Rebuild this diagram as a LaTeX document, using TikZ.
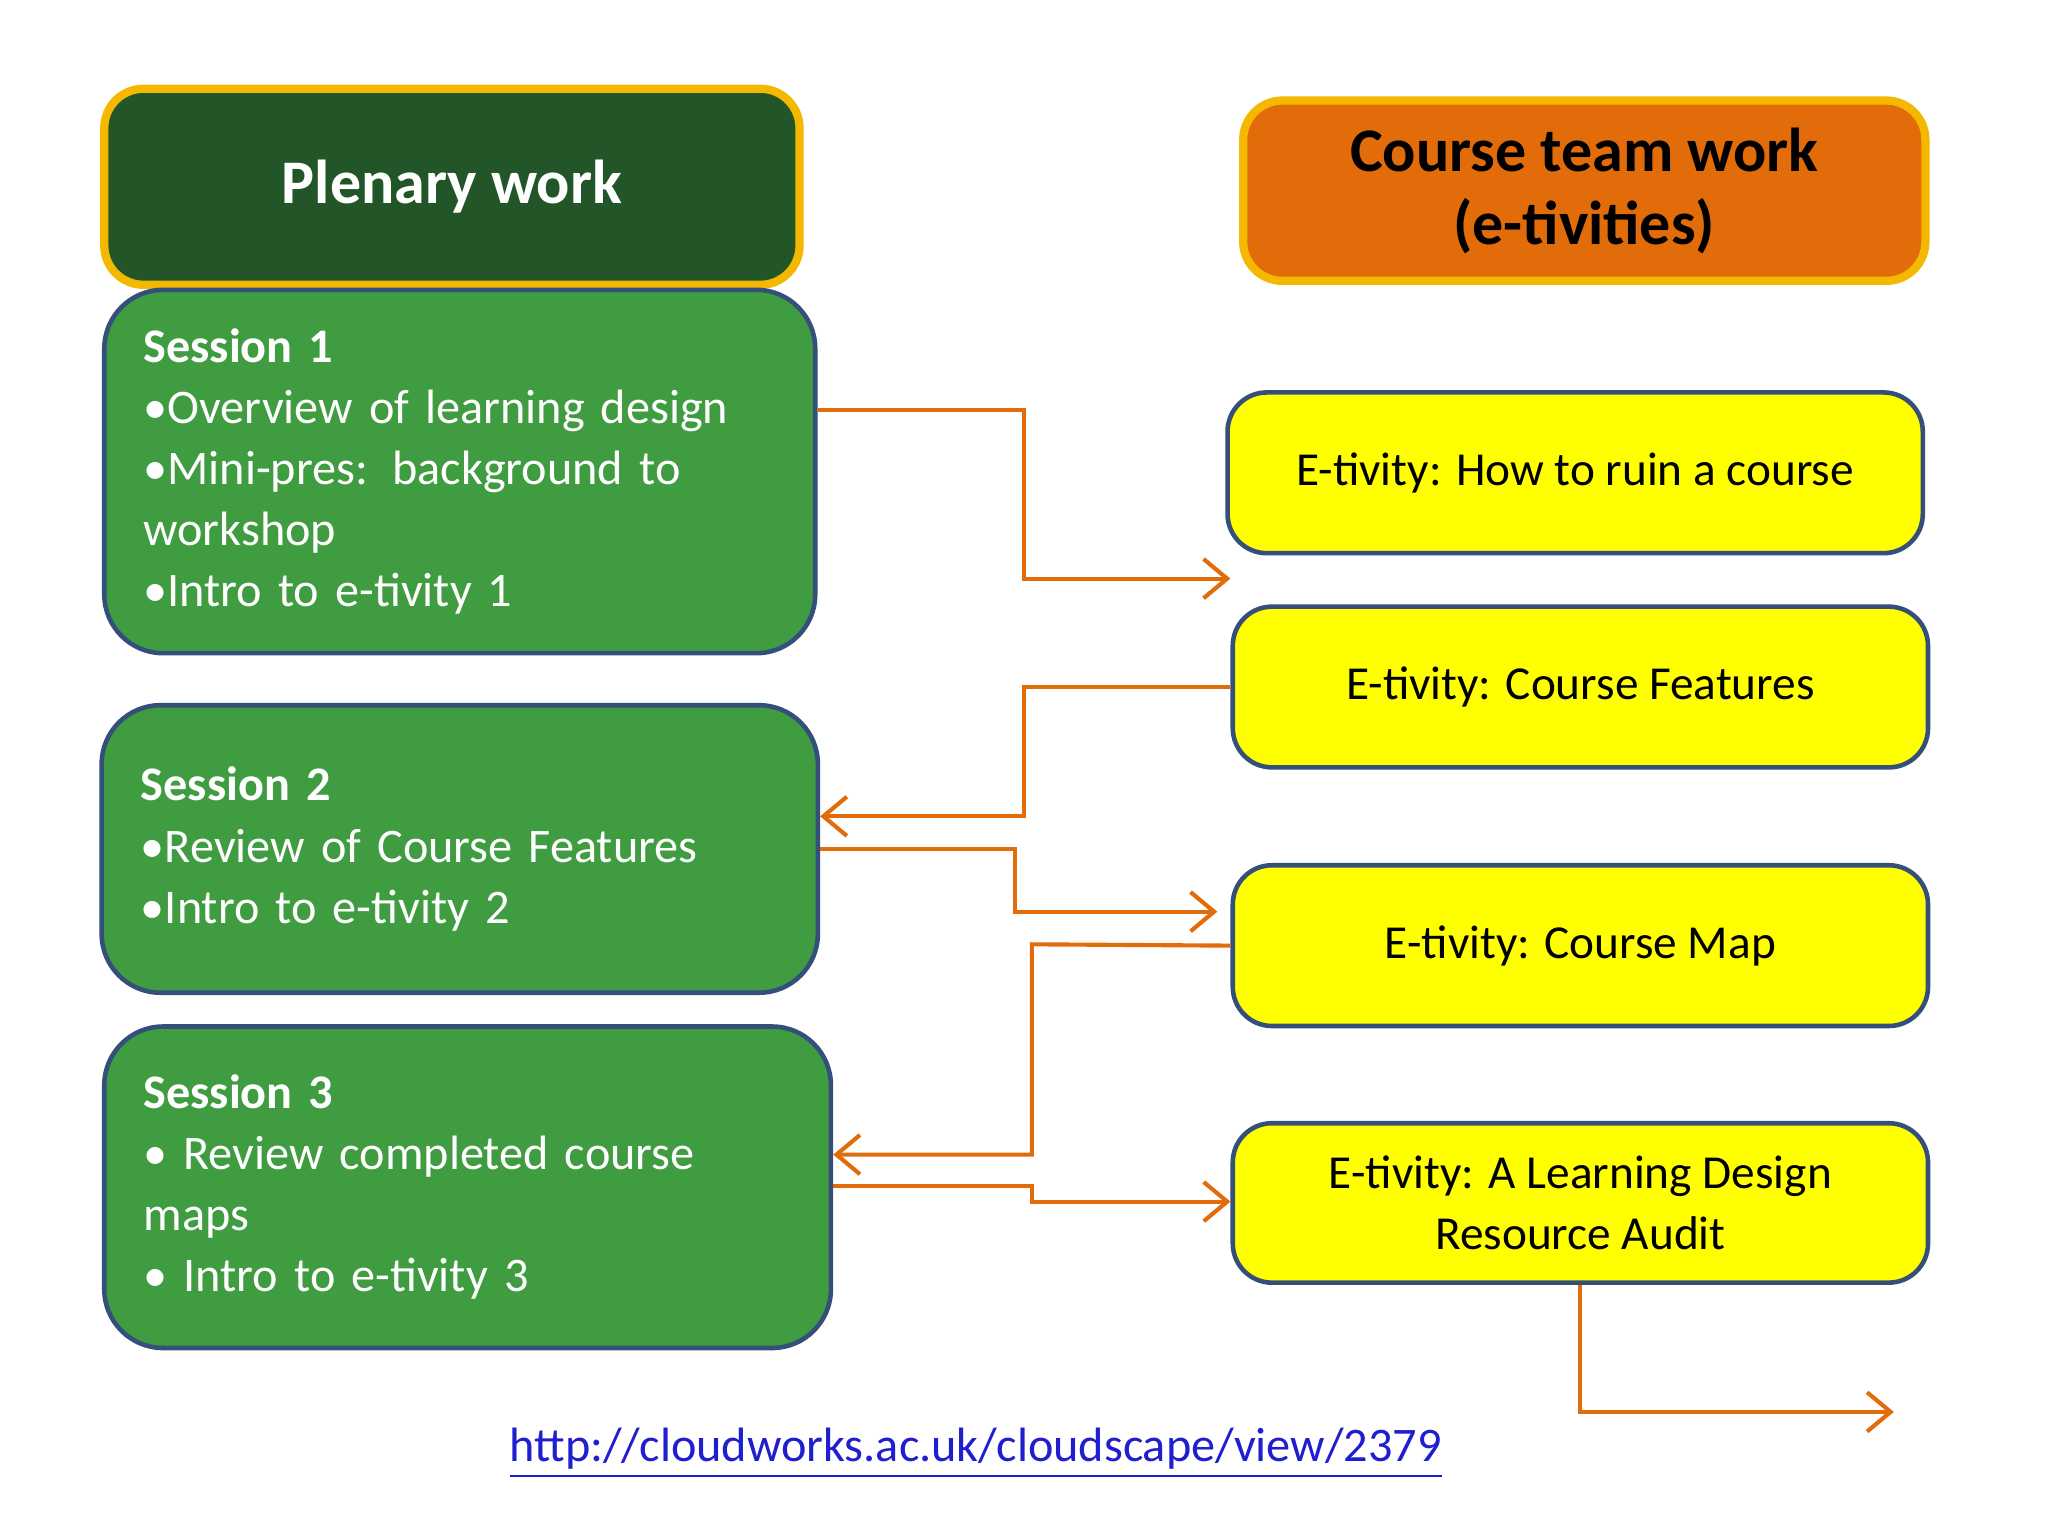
\documentclass[tikz,border=0pt]{standalone}
\usepackage{fontspec}
\setmainfont{Carlito}
\usetikzlibrary{arrows.meta}
\definecolor{hdrgreen}{HTML}{225528}
\definecolor{gold}{HTML}{F5B800}
\definecolor{orng}{HTML}{E36C0A}
\definecolor{sgreen}{HTML}{409C40}
\definecolor{bblue}{HTML}{34507A}
\definecolor{ylw}{HTML}{FFFF00}
\definecolor{link}{HTML}{1F1FCF}
\begin{document}
\begin{tikzpicture}[x=0.01cm,y=-0.01cm,
  hdr/.style={draw=gold,line width=1.8pt,rounded corners=0.3cm,align=center,font=\bfseries\fontsize{13.5}{16}\selectfont},
  sess/.style={draw=bblue,line width=1pt,fill=sgreen,rounded corners=0.45cm,text=white,align=left,font=\fontsize{10.5}{13.3}\selectfont,inner xsep=0.3cm},
  ety/.style={draw=bblue,line width=1pt,fill=ylw,rounded corners=0.3cm,align=center,minimum width=5.32cm,minimum height=1.23cm,font=\fontsize{10.3}{13.3}\selectfont},
  arr/.style={draw=orng,line width=0.9pt,-{Straight Barb[length=0.18cm,width=0.3cm]}}]
\useasboundingbox[fill=white] (0,0) rectangle (1568,1176);
\node[hdr,fill=hdrgreen,text=white,minimum width=5.32cm,minimum height=1.5cm] (ph) at (346,143) {Plenary work};
\node[hdr,fill=orng,minimum width=5.22cm,minimum height=1.38cm] (ch) at (1213,146) {Course team work\\(e-tivities)};
\node[sess,minimum width=5.44cm,minimum height=2.78cm,text width=4.84cm] (s1) at (352,361) {\textbf{Session 1}\\•Overview of learning design\\•Mini-pres: background to\\workshop\\•Intro to e-tivity 1};
\node[sess,minimum width=5.44cm,minimum height=2.2cm,text width=4.88cm] (s2) at (352,650) {\textbf{Session 2}\\•Review of Course Features\\•Intro to e-tivity 2};
\node[sess,minimum width=5.56cm,minimum height=2.46cm,text width=4.96cm] (s3) at (358,909) {\textbf{Session 3}\\• Review completed course\\maps\\• Intro to e-tivity 3};
\node[ety] (e1) at (1206,362) {E-tivity: How to ruin a course};
\node[ety] (e2) at (1210,526) {E-tivity: Course Features};
\node[ety] (e3) at (1210,724) {E-tivity: Course Map};
\node[ety,minimum height=1.22cm] (e4) at (1210,921) {E-tivity: A Learning Design\\Resource Audit};
\coordinate (a1) at (942,443);
\coordinate (a3) at (932,698);
\coordinate (a6) at (1450,1081);
\draw[arr] (s1.east|-0,314) -- (784,314) |- (a1);
\draw[arr] (e2.west) -- (784,526) |- (s2.east|-0,625);
\draw[arr] (s2.east|-0,650) -- (777,650) |- (a3);
\draw[arr] (e3.west) -- (790,723) |- (s3.east|-0,884);
\draw[arr] (s3.east|-0,908) -- (790,908) -- (790,920) -- (e4.west|-0,920);
\draw[arr] (e4.south) |- (a6);
\node[text=link,font=\fontsize{10.5}{13}\selectfont] (url) at (747,1113) {\underline{http://cloudworks.ac.uk/cloudscape/view/2379}};
\end{tikzpicture}
\end{document}
